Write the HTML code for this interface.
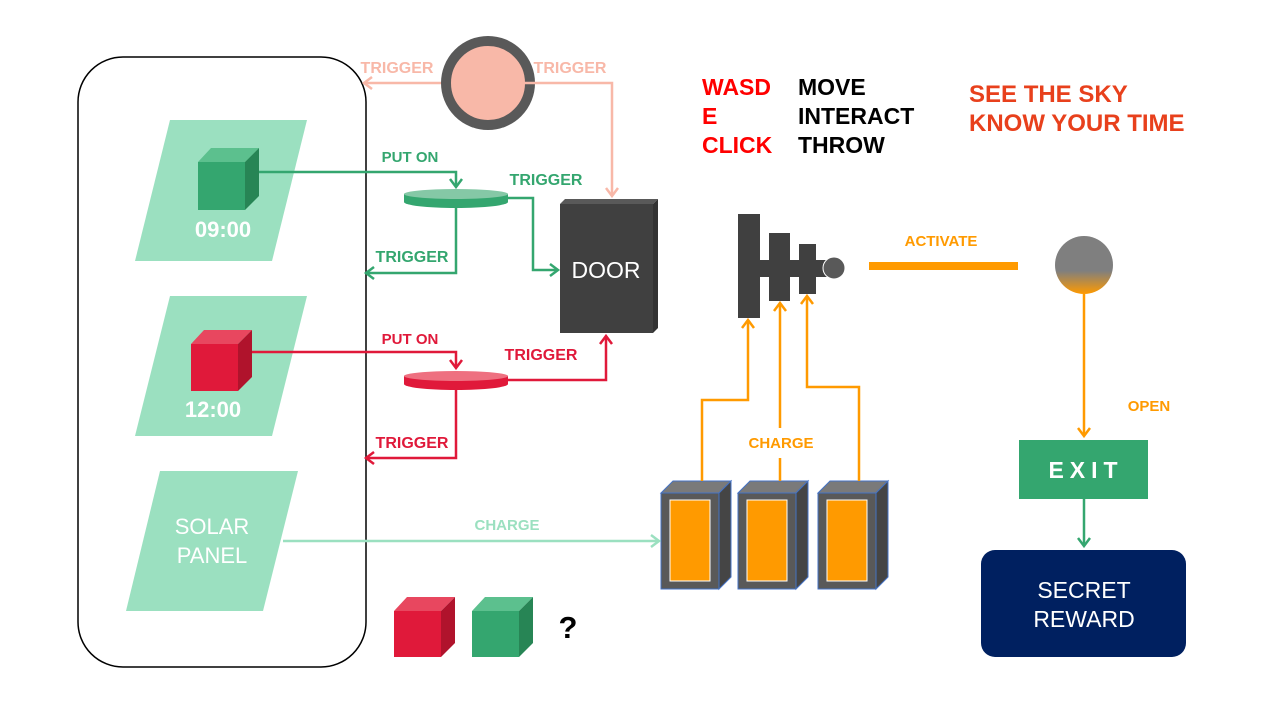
<!DOCTYPE html>
<html><head><meta charset="utf-8"><style>
html,body{margin:0;padding:0;background:#fff;width:1271px;height:714px;overflow:hidden}
svg{display:block;font-family:"Liberation Sans",Arial,sans-serif}
.b{font-weight:bold}
</style></head><body>
<svg width="1271" height="714" viewBox="0 0 1271 714">
<defs>
<linearGradient id="sun" x1="0" y1="0" x2="0" y2="1">
<stop offset="0.6" stop-color="#7f7f7f"/><stop offset="1" stop-color="#ff9a00"/>
</linearGradient>
<marker id="aPink" markerWidth="14" markerHeight="14" refX="10" refY="7" orient="auto" markerUnits="userSpaceOnUse"><path d="M2,1 L10,7 L2,13" fill="none" stroke="#F8B8A8" stroke-width="2.5"/></marker>
<marker id="aGreen" markerWidth="14" markerHeight="14" refX="10" refY="7" orient="auto" markerUnits="userSpaceOnUse"><path d="M2,1 L10,7 L2,13" fill="none" stroke="#34A66F" stroke-width="2.5"/></marker>
<marker id="aRed" markerWidth="14" markerHeight="14" refX="10" refY="7" orient="auto" markerUnits="userSpaceOnUse"><path d="M2,1 L10,7 L2,13" fill="none" stroke="#E0193A" stroke-width="2.5"/></marker>
<marker id="aLG" markerWidth="14" markerHeight="14" refX="10" refY="7" orient="auto" markerUnits="userSpaceOnUse"><path d="M2,1 L10,7 L2,13" fill="none" stroke="#9BE0C0" stroke-width="2.5"/></marker>
<marker id="aOr" markerWidth="14" markerHeight="14" refX="10" refY="7" orient="auto" markerUnits="userSpaceOnUse"><path d="M2,1 L10,7 L2,13" fill="none" stroke="#FF9A00" stroke-width="2.5"/></marker>
</defs>

<rect x="78" y="57" width="288" height="610" rx="45" fill="none" stroke="#000" stroke-width="1.5"/>

<g>
<polygon points="170,120 307,120 272,261 135,261" fill="#9BE0C0"/>
<polygon points="198,162 245,162 245,210 198,210" fill="#34A66F"/>
<polygon points="198,162 211,148 259,148 245,162" fill="#5CC08E"/>
<polygon points="245,162 259,148 259,196 245,210" fill="#278555"/>
<text x="223" y="237" text-anchor="middle" font-size="22" fill="#fff" class="b">09:00</text>
</g>
<g>
<polygon points="170,296 307,296 272,436 135,436" fill="#9BE0C0"/>
<polygon points="191,344 238,344 238,391 191,391" fill="#E0193A"/>
<polygon points="191,344 204,330 252,330 238,344" fill="#E8475F"/>
<polygon points="238,344 252,330 252,377 238,391" fill="#B0132C"/>
<text x="213" y="417" text-anchor="middle" font-size="22" fill="#fff" class="b">12:00</text>
</g>
<g>
<polygon points="160,471 298,471 263,611 126,611" fill="#9BE0C0"/>
<text x="212" y="534" text-anchor="middle" font-size="22" fill="#fff">SOLAR</text>
<text x="212" y="563" text-anchor="middle" font-size="22" fill="#fff">PANEL</text>
</g>

<g>
<circle cx="488" cy="83" r="42" fill="#F8B8A8" stroke="#595959" stroke-width="10"/>
</g>
<path d="M441,83 H364" stroke="#F8B8A8" stroke-width="2.5" fill="none" marker-end="url(#aPink)"/>
<path d="M523,83 H612 V196" stroke="#F8B8A8" stroke-width="2.5" fill="none" marker-end="url(#aPink)"/>
<text x="397" y="73" text-anchor="middle" font-size="16" fill="#F8B8A8" class="b">TRIGGER</text>
<text x="570" y="73" text-anchor="middle" font-size="16" fill="#F8B8A8" class="b">TRIGGER</text>

<g>
<rect x="404" y="194" width="104" height="8" fill="#34A66F"/>
<ellipse cx="456" cy="202" rx="52" ry="6" fill="#34A66F"/>
<ellipse cx="456" cy="194" rx="52" ry="5" fill="#85C8A6"/>
</g>
<path d="M259,172 H456 V187" stroke="#34A66F" stroke-width="2.5" fill="none" marker-end="url(#aGreen)"/>
<path d="M456,208 V273 H366" stroke="#34A66F" stroke-width="2.5" fill="none" marker-end="url(#aGreen)"/>
<path d="M508,198 H533 V270 H558" stroke="#34A66F" stroke-width="2.5" fill="none" marker-end="url(#aGreen)"/>
<text x="410" y="162" text-anchor="middle" font-size="15" fill="#34A66F" class="b">PUT ON</text>
<text x="546" y="185" text-anchor="middle" font-size="16" fill="#34A66F" class="b">TRIGGER</text>
<text x="412" y="262" text-anchor="middle" font-size="16" fill="#34A66F" class="b">TRIGGER</text>

<g>
<rect x="404" y="376" width="104" height="8" fill="#E0193A"/>
<ellipse cx="456" cy="384" rx="52" ry="6" fill="#E0193A"/>
<ellipse cx="456" cy="376" rx="52" ry="5" fill="#EE7080"/>
</g>
<path d="M252,352 H456 V368" stroke="#E0193A" stroke-width="2.5" fill="none" marker-end="url(#aRed)"/>
<path d="M456,390 V458 H366" stroke="#E0193A" stroke-width="2.5" fill="none" marker-end="url(#aRed)"/>
<path d="M508,380 H606 V336" stroke="#E0193A" stroke-width="2.5" fill="none" marker-end="url(#aRed)"/>
<text x="410" y="344" text-anchor="middle" font-size="15" fill="#E0193A" class="b">PUT ON</text>
<text x="541" y="360" text-anchor="middle" font-size="16" fill="#E0193A" class="b">TRIGGER</text>
<text x="412" y="448" text-anchor="middle" font-size="16" fill="#E0193A" class="b">TRIGGER</text>

<g>
<polygon points="560,204 565,199 658,199 653,204" fill="#595959"/>
<polygon points="653,204 658,199 658,328 653,333" fill="#333"/>
<rect x="560" y="204" width="93" height="129" fill="#404040"/>
<text x="606" y="278" text-anchor="middle" font-size="23" fill="#fff">DOOR</text>
</g>

<g font-size="23" class="b">
<text x="702" y="95" fill="#F00">WASD</text>
<text x="702" y="124" fill="#F00">E</text>
<text x="702" y="153" fill="#F00">CLICK</text>
<text x="798" y="95" fill="#000">MOVE</text>
<text x="798" y="124" fill="#000">INTERACT</text>
<text x="798" y="153" fill="#000">THROW</text>
</g>
<g font-size="24" class="b" fill="#E8401C">
<text x="969" y="102">SEE THE SKY</text>
<text x="969" y="131">KNOW YOUR TIME</text>
</g>

<g fill="#404040">
<rect x="738" y="214" width="22" height="104"/>
<rect x="760" y="260" width="68" height="17"/>
<rect x="769" y="233" width="21" height="68"/>
<rect x="799" y="244" width="17" height="50"/>
<circle cx="834" cy="268" r="11" fill="#595959" stroke="#fff" stroke-width="1"/>
</g>
<rect x="869" y="262" width="149" height="8" fill="#FF9A00"/>
<text x="941" y="246" text-anchor="middle" font-size="15" fill="#FF9A00" class="b">ACTIVATE</text>

<circle cx="1084" cy="265" r="29" fill="url(#sun)"/>
<path d="M1084,294 V436" stroke="#FF9A00" stroke-width="2.5" fill="none" marker-end="url(#aOr)"/>
<text x="1149" y="411" text-anchor="middle" font-size="15" fill="#FF9A00" class="b">OPEN</text>

<g>
<rect x="1019" y="440" width="129" height="59" fill="#34A66F"/>
<text x="1086" y="478" text-anchor="middle" font-size="23" fill="#fff" class="b" letter-spacing="6">EXIT</text>
</g>
<path d="M1084,499 V546" stroke="#34A66F" stroke-width="2.5" fill="none" marker-end="url(#aGreen)"/>
<g>
<rect x="981" y="550" width="205" height="107" rx="14" fill="#002060"/>
<text x="1084" y="598" text-anchor="middle" font-size="23" fill="#fff">SECRET</text>
<text x="1084" y="627" text-anchor="middle" font-size="23" fill="#fff">REWARD</text>
</g>

<g>
<g>
<polygon points="661,493 673,481 731,481 719,493" fill="#7a7a7a" stroke="#4472C4" stroke-width="1"/>
<polygon points="719,493 731,481 731,577 719,589" fill="#454545" stroke="#4472C4" stroke-width="1"/>
<rect x="661" y="493" width="58" height="96" fill="#595959" stroke="#4472C4" stroke-width="1"/>
<rect x="670" y="500" width="40" height="81" fill="#FF9A00" stroke="#fff" stroke-width="1"/>
</g>
<g>
<polygon points="738,493 750,481 808,481 796,493" fill="#7a7a7a" stroke="#4472C4" stroke-width="1"/>
<polygon points="796,493 808,481 808,577 796,589" fill="#454545" stroke="#4472C4" stroke-width="1"/>
<rect x="738" y="493" width="58" height="96" fill="#595959" stroke="#4472C4" stroke-width="1"/>
<rect x="747" y="500" width="40" height="81" fill="#FF9A00" stroke="#fff" stroke-width="1"/>
</g>
<g>
<polygon points="818,493 830,481 888,481 876,493" fill="#7a7a7a" stroke="#4472C4" stroke-width="1"/>
<polygon points="876,493 888,481 888,577 876,589" fill="#454545" stroke="#4472C4" stroke-width="1"/>
<rect x="818" y="493" width="58" height="96" fill="#595959" stroke="#4472C4" stroke-width="1"/>
<rect x="827" y="500" width="40" height="81" fill="#FF9A00" stroke="#fff" stroke-width="1"/>
</g>
</g>
<path d="M702,481 V400 H748 V320" stroke="#FF9A00" stroke-width="2.5" fill="none" marker-end="url(#aOr)"/>
<path d="M780,481 V458 M780,428 V303" stroke="#FF9A00" stroke-width="2.5" fill="none" marker-end="url(#aOr)"/>
<path d="M859,481 V387 H807 V296" stroke="#FF9A00" stroke-width="2.5" fill="none" marker-end="url(#aOr)"/>
<text x="781" y="448" text-anchor="middle" font-size="15" fill="#FF9A00" class="b">CHARGE</text>

<path d="M283,541 H659" stroke="#9BE0C0" stroke-width="2.5" fill="none" marker-end="url(#aLG)"/>
<text x="507" y="530" text-anchor="middle" font-size="15" fill="#9BE0C0" class="b">CHARGE</text>

<g>
<polygon points="394,611 441,611 441,657 394,657" fill="#E0193A"/>
<polygon points="394,611 407,597 455,597 441,611" fill="#E8475F"/>
<polygon points="441,611 455,597 455,643 441,657" fill="#B0132C"/>
<polygon points="472,611 519,611 519,657 472,657" fill="#34A66F"/>
<polygon points="472,611 485,597 533,597 519,611" fill="#5CC08E"/>
<polygon points="519,611 533,597 533,643 519,657" fill="#278555"/>
<text x="568" y="638" text-anchor="middle" font-size="31" fill="#000" class="b">?</text>
</g>
</svg>
</body></html>
